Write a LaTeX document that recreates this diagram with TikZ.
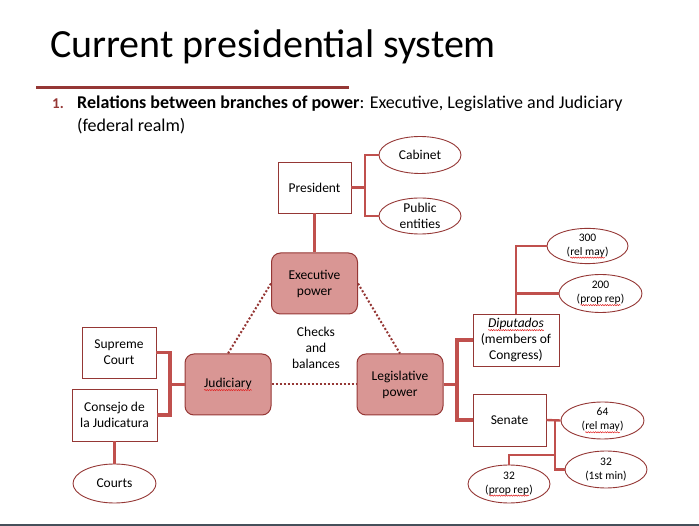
\documentclass[tikz,border=0pt]{standalone}
\usepackage{fontspec}
\setmainfont{Carlito}
\usetikzlibrary{shapes.geometric,decorations.pathmorphing}
\definecolor{linkred}{RGB}{192,80,77}
\definecolor{darkred}{RGB}{149,55,53}
\definecolor{powerfill}{RGB}{217,150,148}
\definecolor{spell}{RGB}{225,30,30}
\definecolor{slate}{RGB}{70,80,90}
\newcommand\spellwave[1]{\tikz[baseline=(w.base), sharp corners]{\node[shape=rectangle, draw=none, fill=none,
    minimum size=0pt, inner sep=0pt, outer sep=0pt] (w) {#1};
  \draw[spell, line width=0.5pt, decorate, decoration={snake, amplitude=0.6pt, segment length=2.4pt}]
    ([yshift=-2.6pt]w.base west) -- ([yshift=-2.6pt]w.base east);}}
\tikzset{
  txt/.style={font=\fontsize{13.5}{16}\selectfont, align=center, inner sep=1pt},
  small/.style={font=\fontsize{11.5}{14}\selectfont},
  box/.style={txt, draw=darkred, line width=0.9pt, fill=white},
  power/.style={txt, draw=darkred, line width=1pt, fill=powerfill, rounded corners=9pt,
    minimum width=86, minimum height=61},
  oval/.style={txt, ellipse, draw=darkred, line width=0.9pt, fill=white, inner sep=0pt,
    minimum width=82, minimum height=37},
  link/.style={draw=linkred, line width=3.8pt},
  branch/.style={draw=linkred, line width=2.4pt},
  check/.style={draw=darkred, line width=2pt, dotted}
}
\begin{document}
\begin{tikzpicture}[x=1pt,y=-1pt]
\useasboundingbox (0,0) rectangle (699,526);
\node[anchor=base west, inner sep=0, font=\fontsize{40}{42}\selectfont] (title) at (50,58) {Current presidential system};
\draw[darkred, line width=3pt] (36,88) -- (349,88);
\node[anchor=base west, inner sep=0, text=darkred, font=\fontsize{15}{20}\selectfont\bfseries] (num) at (52,109) {1.};
\node[anchor=base west, inner sep=0, font=\fontsize{18}{22}\selectfont] (intro) at (77,109) {\textbf{Relations between branches of power}: Executive, Legislative and Judiciary};
\node[anchor=base west, inner sep=0, font=\fontsize{18}{22}\selectfont] (intro2) at (77,132) {(federal realm)};

% executive
\node[box, minimum width=73, minimum height=51] (pres) at (314.5,187.5) {President};
\node[oval] (cab) at (420,155) {Cabinet};
\node[oval, minimum height=36] (pub) at (420,216) {Public\\entities};
\node[power] (exec) at (314.5,283.5) {Executive\\power};
\node[power] (jud) at (228,384.5) {\spellwave{Judiciary}};
\node[power] (leg) at (400,384.5) {Legislative\\power};
\node[txt] (checks) at (316,348) {Checks\\and\\balances};

% legislative
\node[box, minimum width=86, minimum height=52] (dip) at (516,340) {\spellwave{\itshape Diputados}\\(members of\\Congress)};
\node[box, minimum width=73, minimum height=52] (sen) at (509.5,420) {Senate};
\node[oval, small, minimum width=81, minimum height=35] (d300) at (587.5,246) {300\\(\spellwave{rel may})};
\node[oval, small, minimum width=83, minimum height=38] (d200) at (600.5,293.5) {200\\(\spellwave{prop rep})};
\node[oval, small, minimum width=83] (s64) at (602.5,420.5) {64\\(\spellwave{rel may})};
\node[oval, small] (s32min) at (606,469.5) {32\\(1st min)};
\node[oval, small, minimum height=38] (s32rep) at (509,484) {32\\(\spellwave{prop rep})};

% judiciary
\node[box, minimum width=74, minimum height=51] (supr) at (119,352.5) {Supreme\\Court};
\node[box, minimum width=85, minimum height=52] (cons) at (114.5,415) {Consejo de\\la Judicatura};
\node[oval, minimum width=83, minimum height=39] (courts) at (114.5,483.5) {Courts};

\coordinate (pb) at (365,187.5);
\coordinate (lb) at (457,384.5);
\coordinate (db) at (516,293.5);
\coordinate (sb) at (555,420.5);
\coordinate (sr) at (555,455);
\coordinate (jb) at (170,384.5);

\draw[link] (pres.east) -- (pb);
\draw[branch] (cab.west) -| (pb) |- (pub.west);
\draw[link] (pres.south) -- (exec.north);
\draw[check] (exec.west) -- (jud.north);
\draw[check] (exec.east) -- (leg.north);
\draw[check] (jud.east) -- (leg.west);
\draw[link] (leg.east) -- (lb);
\draw[link] (dip.west) -| (lb) |- (sen.west);
\draw[branch] (dip.north) |- (d300.west);
\draw[branch] (db) -- (d200.west);
\draw[branch] (sen.east) -- (s64.west);
\draw[branch] (sb) |- (s32min.west);
\draw[branch] (sr) -| (s32rep.north);
\draw[link] (supr.east) -| (jb) |- (cons.east);
\draw[link] (jb) -- (jud.west);
\draw[branch] (cons.south) -- (courts.north);

\draw[slate, line width=2pt] (0,525) -- (699,525);
\end{tikzpicture}
\end{document}
